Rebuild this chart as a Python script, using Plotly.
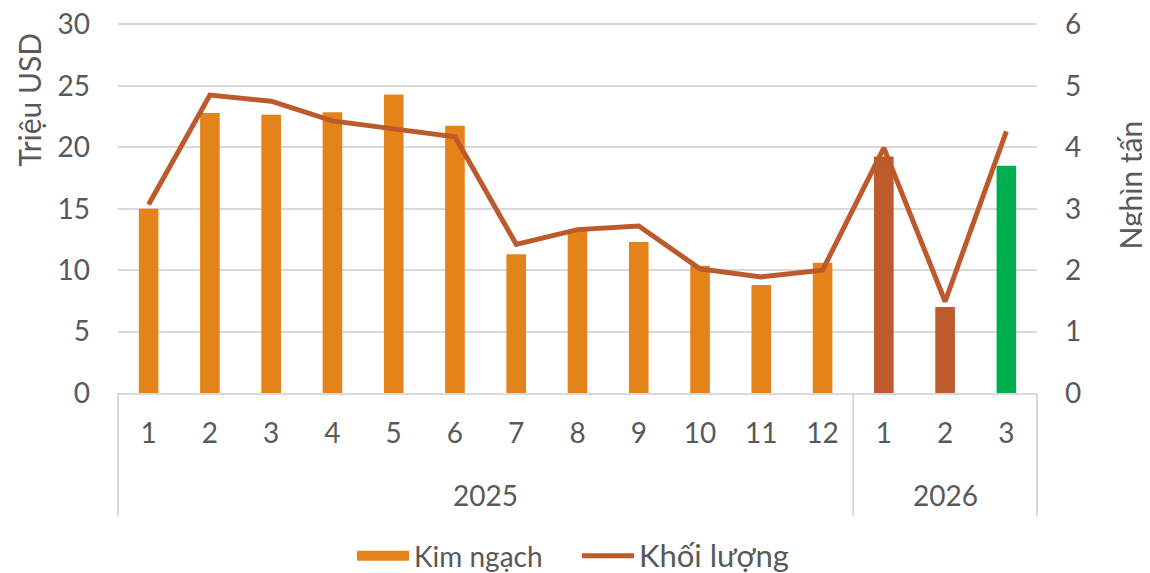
import plotly.graph_objects as go

years = ["2025"] * 12 + ["2026"] * 3
months = ["1", "2", "3", "4", "5", "6", "7", "8", "9", "10", "11", "12", "1", "2", "3"]
kim_ngach = [15.0, 22.8, 22.65, 22.85, 24.3, 21.75, 11.3, 13.2, 12.3, 10.35, 8.8, 10.6, 19.25, 7.0, 18.5]
khoi_luong = [3.07, 4.85, 4.75, 4.43, 4.30, 4.17, 2.42, 2.66, 2.72, 2.02, 1.89, 2.0, 3.99, 1.49, 4.26]
bar_colors = ["#E4831A"] * 12 + ["#BE5A2B", "#BE5A2B", "#00B050"]
year_groups = ["2025", "2026"]

categories = [f"{y}-{m}" for y, m in zip(years, months)]

FONT = "Lato"
TXT = "#595959"
GRID = "#D9D9D9"

fig = go.Figure()
# legend entry for the bars (wide rectangle like the original)
fig.add_trace(go.Scatter(
    x=[None], y=[None], name='<span style="font-size:28px">Kim ngạch</span>',
    mode="lines", line=dict(color="#E4831A", width=18), hoverinfo="skip",
))
fig.add_trace(go.Bar(
    x=categories, y=kim_ngach, name="Kim ngạch", showlegend=False,
    marker=dict(color=bar_colors, line=dict(width=0)),
    width=0.32, yaxis="y",
))
fig.add_trace(go.Scatter(
    x=categories, y=khoi_luong, name='<span style="font-size:31px">Khối lượng</span>',
    mode="lines", line=dict(color="#BD5A2C", width=5), yaxis="y2",
))

# group (year) labels and dividers of the two-level category axis
for yr in year_groups:
    idx = [i for i, y in enumerate(years) if y == yr]
    center = (idx[0] + idx[-1]) / 2
    fig.add_annotation(x=center, xref="x", y=-0.276, yref="paper", text=yr,
                       showarrow=False, font=dict(size=28, color=TXT), yanchor="middle")
bounds = [i + 0.5 for i in range(len(years) - 1) if years[i] != years[i + 1]]
for xp in (0, 1):
    fig.add_shape(type="line", xref="paper", yref="paper", x0=xp, x1=xp, y0=0, y1=-0.331,
                  line=dict(color=GRID, width=2))
for b in bounds:
    fig.add_shape(type="line", xref="x", yref="paper", x0=b, x1=b, y0=0, y1=-0.331,
                  line=dict(color=GRID, width=2))

# axis titles
fig.add_annotation(x=-0.097, y=0.79, xref="paper", yref="paper", text="Triệu USD",
                   textangle=-90, showarrow=False, font=dict(size=30, color=TXT),
                   xanchor="center", yanchor="middle")
fig.add_annotation(x=1.1015, y=0.56, xref="paper", yref="paper", text="Nghìn tấn",
                   textangle=-90, showarrow=False, font=dict(size=30, color=TXT),
                   xanchor="center", yanchor="middle")

fig.update_layout(
    width=1142, height=565,
    margin=dict(l=110, r=113, t=14, b=180),
    paper_bgcolor="white", plot_bgcolor="white",
    font=dict(family=FONT, size=28, color=TXT),
    showlegend=True,
    legend=dict(orientation="h", x=0.2546, xanchor="left", xref="paper",
                y=0.03, yanchor="middle", yref="container",
                entrywidth=158, entrywidthmode="pixels",
                font=dict(size=28, color=TXT), itemwidth=52, bgcolor="rgba(0,0,0,0)"),
    xaxis=dict(type="category", automargin=False, showgrid=False, showline=True,
               linecolor=GRID, linewidth=2, range=[-0.5, len(categories) - 0.5],
               tickmode="array", tickvals=categories, ticktext=months,
               ticks="", tickfont=dict(size=28, color=TXT), ticklabelstandoff=14),
    yaxis=dict(range=[0, 30.2], tickmode="linear", tick0=0, dtick=5, automargin=False,
               showgrid=True, gridcolor=GRID, gridwidth=2, ticklabeloverflow="allow",
               zeroline=False, ticks="", tickfont=dict(size=28, color=TXT), ticklabelstandoff=27),
    yaxis2=dict(range=[0, 6.04], tickmode="linear", tick0=0, dtick=1, overlaying="y", side="right",
                automargin=False, showgrid=False, ticklabeloverflow="allow",
                zeroline=False, ticks="", tickfont=dict(size=28, color=TXT), ticklabelstandoff=27),
)

fig.write_html("out.html")
